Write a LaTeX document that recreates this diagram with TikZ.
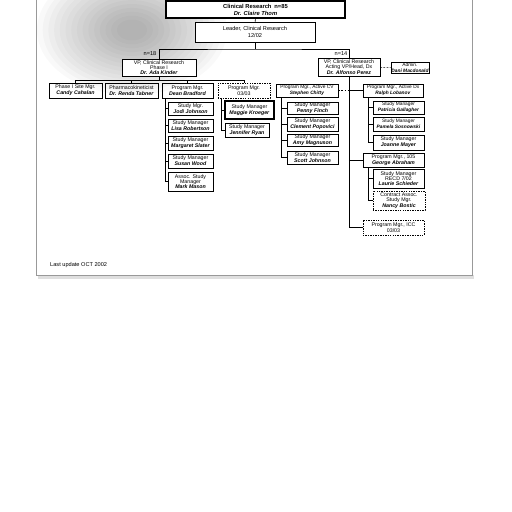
\documentclass[tikz,border=0pt]{standalone}
\usepackage{fontspec}
\setmainfont{Liberation Sans}
\usetikzlibrary{positioning}
\newcommand{\who}[1]{\textbf{\textit{#1}}}
\tikzset{
    %Define style for boxes
    orgbox/.style={
           rectangle,
           draw=black, line width=0.3pt,
           inner sep=0.3pt,
           align=center,
           font=\fontsize{3}{3.4}\selectfont},
    vacant/.style={
           orgbox,
           dash pattern=on 0.8pt off 0.6pt},
    tight/.style={
           font=\fontsize{3}{3.05}\selectfont},
    narrow/.style={
           font=\fontsize{2.75}{3.3}\selectfont},
    bx/.style n args={2}{
           minimum width=#1*0.02cm,
           minimum height=#2*0.02cm},
    % Define line style
    lnk/.style={
           draw=black,
           line width=0.3pt}
}
\begin{document}
\begin{tikzpicture}[x=0.02cm,y=-0.02cm]
\useasboundingbox (0,0) rectangle (512,512);
 %scan shadow and page
\foreach \r in {1.0,0.94,...,0.15}
    \fill[black, opacity=0.025] (132,30) ellipse [x radius=\r*1.9cm, y radius=\r*1.3cm];
\fill[gray!25] (38,275) rectangle (474,279);
\draw[gray!80, line width=0.4pt] (36,0) -- (36,275) -- (472,275) -- (472,0);

 %top
\node[orgbox, bx={179}{17}, line width=0.8pt, fill=white, font=\fontsize{3.3}{3.9}\selectfont\bfseries] (top) at (255.5,9.5) {Clinical Research\enspace n=85\\\who{Dr. Claire Thom}};
\node[orgbox, bx={120}{20}, fill=white, font=\fontsize{3.2}{3.6}\selectfont] (lead) at (255,32) {Leader, Clinical Research\\12/02};

 %vice presidents
\node[orgbox, tight, bx={74}{17}, fill=white] (vpA) at (159,67.5) {VP, Clinical Research\\Phase I\\\who{Dr. Ada Kinder}};
\node[orgbox, tight, bx={62}{18}] (vpB) at (349,67) {VP, Clinical Research\\Acting VP/Head, Dx\\\who{Dr. Alfonso Perez}};
\node[orgbox, narrow, bx={38}{11}] (adm) at (410,67.5) {Admin.\\\who{Dani Macdonald}};
\node[font=\fontsize{3.2}{3.5}\selectfont] (nA) at (150,54) {n=18};
\node[font=\fontsize{3.2}{3.5}\selectfont] (nB) at (341,54) {n=14};

 %second row
\node[orgbox, bx={53}{15}] (site) at (75.5,90.5) {Phase I Site Mgr.\\\who{Candy Cahalan}};
\node[orgbox, bx={53}{15}] (pk) at (131.5,90.5) {Pharmacokineticist\\\who{Dr. Renda Tabner}};
\node[orgbox, bx={51}{15}] (pmA) at (187.5,90.5) {Program Mgr.\\\who{Dean Bradford}};
\node[vacant, bx={52}{15}] (pmB) at (244,90.5) {Program Mgr.\\03/03};
\node[orgbox, narrow, bx={62}{13}] (pmC) at (307,90.5) {Program Mgr., Active CV\\\who{Stephen Chitty}};
\node[orgbox, narrow, bx={60}{13}] (pmD) at (393,90.5) {Program Mgr., Active Dx\\\who{Ralph Lobanov}};
\node[orgbox, bx={61}{14}] (pmE) at (393.5,160) {Program Mgr., 105\\\who{George Abraham}};
\node[vacant, bx={61}{15}] (pmF) at (393.5,227.5) {Program Mgr., ICC\\03/03};

 %study managers
\node[orgbox, bx={45}{13}] (sa1) at (190.5,108.5) {Study Mgr.\\\who{Jodi Johnson}};
\node[orgbox, bx={45}{13}] (sa2) at (190.5,125.5) {Study Manager\\\who{Lisa Robertson}};
\node[orgbox, bx={45}{14}] (sa3) at (190.5,143) {Study Manager\\\who{Margaret Slater}};
\node[orgbox, bx={45}{14}] (sa4) at (190.5,161) {Study Manager\\\who{Susan Wood}};
\node[orgbox, tight, bx={45}{19}] (sa5) at (190.5,181.5) {Assoc. Study\\Manager\\\who{Mark Mason}};
\node[orgbox, bx={49}{18}, line width=0.6pt] (sb1) at (249.5,110) {Study Manager\\\who{Maggie Kroeger}};
\node[orgbox, bx={44}{14}] (sb2) at (247,130) {Study Manager\\\who{Jennifer Ryan}};
\node[orgbox, bx={51}{12}] (sc1) at (312.5,108) {Study Manager\\\who{Penny Finch}};
\node[orgbox, bx={51}{14}] (sc2) at (312.5,124) {Study Manager\\\who{Clement Popovici}};
\node[orgbox, bx={51}{12}] (sc3) at (312.5,140) {Study Manager\\\who{Amy Magnuson}};
\node[orgbox, bx={51}{13}] (sc4) at (312.5,157.5) {Study Manager\\\who{Scott Johnson}};
\node[orgbox, narrow, bx={51}{13}] (sd1) at (398.5,107.5) {Study Manager\\\who{Patricia Gallagher}};
\node[orgbox, narrow, bx={51}{14}] (sd2) at (398.5,124) {Study Manager\\\who{Pamela Sosnowski}};
\node[orgbox, bx={51}{15}] (sd3) at (398.5,142.5) {Study Manager\\\who{Joanne Mayer}};
\node[orgbox, tight, bx={51}{19}] (se1) at (398.5,178.5) {Study Manager\\RECD 7/02\\\who{Laurie Schieder}};
\node[vacant, tight, bx={52}{19}] (se2) at (399,200.5) {Contract Assoc.\\Study Mgr.\\\who{Nancy Bostic}};

\node[anchor=west, font=\fontsize{3.2}{3.5}\selectfont] (upd) at (44,265) {Last update OCT 2002};

 %junctions
\coordinate (bus) at (255,49);
\coordinate (jA) at (159,80);
\coordinate (tA) at (165,98);
\coordinate (tB) at (221,98);
\coordinate (tC) at (281,97);
\coordinate (tD) at (368,97);
\coordinate (tE) at (368,167);

 %connectors
\path[lnk] (top) -- (lead);
\path[lnk] (lead) -- (bus);
\path[lnk] (vpA.north) |- (bus) -| (vpB.north);
\path[lnk] (vpA) -- (jA);
\foreach \b in {site,pk,pmA,pmB}
    \path[lnk] (jA) -| (\b.north);
\foreach \s in {sa1,sa2,sa3,sa4,sa5}
    \path[lnk] (tA) |- (\s.west);
\foreach \s in {sb1,sb2}
    \path[lnk] (tB) |- (\s.west);
\foreach \s in {sc1,sc2,sc3,sc4}
    \path[lnk] (tC) |- (\s.west);
\foreach \s in {sd1,sd2,sd3}
    \path[lnk] (tD) |- (\s.west);
\foreach \s in {se1,se2}
    \path[lnk] (tE) |- (\s.west);
\path[lnk] (vpB.south) |- (pmF.west);
\path[lnk] (vpB.south |- pmD.west) -- (pmD.west);
\path[lnk] (vpB.south |- pmE.west) -- (pmE.west);
\path[lnk, dash pattern=on 1pt off 0.8pt] (pmC.east) -- (pmC.east -| vpB.south);
\path[lnk, dash pattern=on 1pt off 0.8pt] (vpB) -- (adm);

\end{tikzpicture}
\end{document}
